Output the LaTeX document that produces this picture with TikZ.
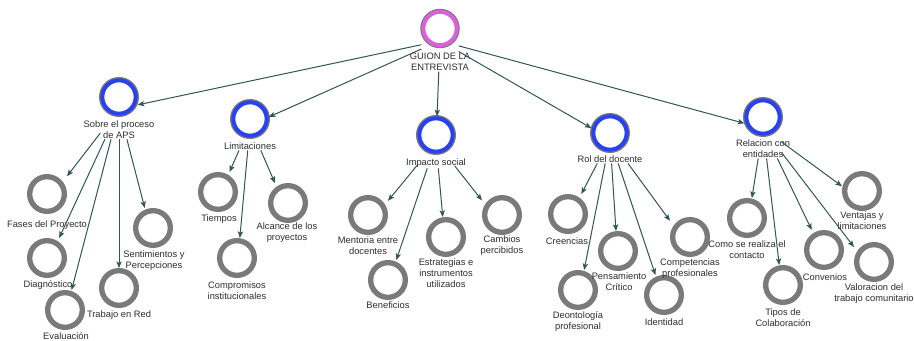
\documentclass[tikz,border=0pt]{standalone}
\usepackage{fontspec}
\setmainfont{Liberation Sans}
\usetikzlibrary{arrows.meta,fit}
\definecolor{ringgray}{RGB}{122,122,122}
\definecolor{ringblue}{RGB}{40,66,240}
\definecolor{ringmag}{RGB}{218,96,220}
\definecolor{edgecol}{RGB}{48,86,86}
\definecolor{txtcol}{RGB}{45,45,45}
\tikzset{
  leafring/.style={circle, minimum size=26pt, inner sep=0pt, fill=white, draw=ringgray, line width=4pt},
  bluering/.style={circle, minimum size=25pt, inner sep=0pt, fill=white, draw=ringblue, line width=3pt,
                   preaction={draw=ringgray, line width=5pt}},
  magring/.style={circle, minimum size=25pt, inner sep=0pt, fill=white, draw=ringmag, line width=3pt,
                   preaction={draw=ringgray, line width=4.6pt}},
  lab/.style={font=\fontsize{7}{8.2}\selectfont, align=center, text=txtcol, inner sep=0.5pt},
  fitbox/.style={inner sep=0pt, outer sep=0pt},
  arr/.style={draw=edgecol, line width=0.75pt, -{Stealth[length=5pt,width=4pt,inset=1.2pt]}}
}
\newcommand\mkconcept[7]{%
  \node[#2] (#1C) at (#3,#4) {};
  \node[lab] (#1L) at (#5,#6) {#7};
  \node[fitbox, fit=(#1C)(#1L.south)] (#1) {};
}
\begin{document}
\begin{tikzpicture}[x=0.75pt,y=-0.75pt]
\useasboundingbox[fill=white] (0,0) rectangle (914,340);
% root and level 1
\mkconcept{root}{magring}{440}{28.5}{440}{62}{GUION DE LA\\ENTREVISTA}
\mkconcept{sobre}{bluering}{119}{97}{119}{129.5}{Sobre el proceso\\de APS}
\mkconcept{limit}{bluering}{250}{119}{250}{146}{Limitaciones}
\mkconcept{impacto}{bluering}{436}{135}{436}{163}{Impacto social}
\mkconcept{rol}{bluering}{610}{133}{610}{159}{Rol del docente}
\mkconcept{relacion}{bluering}{763}{117}{763}{148.5}{Relacion con\\entidades}
% leaves: Sobre
\mkconcept{fases}{leafring}{47}{194}{47}{225}{Fases del Proyecto}
\mkconcept{diag}{leafring}{47}{258}{48}{285}{Diagnóstico}
\mkconcept{eval}{leafring}{65}{310}{66}{336}{Evaluación}
\mkconcept{trabajo}{leafring}{119}{288}{119}{315}{Trabajo en Red}
\mkconcept{senti}{leafring}{153}{228}{154}{261}{Sentimientos y\\Percepciones}
% leaves: Limitaciones
\mkconcept{tiempos}{leafring}{218}{192}{219}{219}{Tiempos}
\mkconcept{alcance}{leafring}{288}{203}{287}{233}{Alcance de los\\proyectos}
\mkconcept{compromisos}{leafring}{237}{258}{237}{290.5}{Compromisos\\institucionales}
% leaves: Impacto social
\mkconcept{mentoria}{leafring}{368}{215}{368}{245.5}{Mentoria entre\\docentes}
\mkconcept{beneficios}{leafring}{388}{280}{388}{305}{Beneficios}
\mkconcept{estrategias}{leafring}{446}{237}{446}{273.5}{Estrategias e\\instrumentos\\utilizados}
\mkconcept{cambios}{leafring}{502}{215}{502}{245.5}{Cambios\\percibidos}
% leaves: Rol del docente
\mkconcept{creencias}{leafring}{568}{214}{567}{241}{Creencias}
\mkconcept{deonto}{leafring}{578}{290}{578}{321.5}{Deontología\\profesional}
\mkconcept{pensamiento}{leafring}{618}{251}{619}{282}{Pensamiento\\Crítico}
\mkconcept{identidad}{leafring}{664}{295}{664}{322}{Identidad}
\mkconcept{competencias}{leafring}{690}{237}{690}{268.5}{Competencias\\profesionales}
% leaves: Relacion con entidades
\mkconcept{como}{leafring}{747}{218}{747}{249.5}{Como se realiza el\\contacto}
\mkconcept{tipos}{leafring}{783}{285}{783}{317.5}{Tipos de\\Colaboración}
\mkconcept{convenios}{leafring}{824}{250}{825}{277}{Convenios}
\mkconcept{ventajas}{leafring}{862}{191}{862}{221}{Ventajas y\\limitaciones}
\mkconcept{valoracion}{leafring}{874}{262}{874}{293.5}{Valoracion del\\trabajo comunitario}
% edges
\foreach \t in {sobre,limit,impacto,rol,relacion} \draw[arr] (root) -- (\t);
\foreach \t in {fases,diag,eval,trabajo,senti} \draw[arr] (sobre) -- (\t);
\foreach \t in {tiempos,compromisos,alcance} \draw[arr] (limit) -- (\t);
\foreach \t in {mentoria,beneficios,estrategias,cambios} \draw[arr] (impacto) -- (\t);
\foreach \t in {creencias,deonto,pensamiento,identidad,competencias} \draw[arr] (rol) -- (\t);
\foreach \t in {como,tipos,convenios,valoracion,ventajas} \draw[arr] (relacion) -- (\t);
\end{tikzpicture}
\end{document}
